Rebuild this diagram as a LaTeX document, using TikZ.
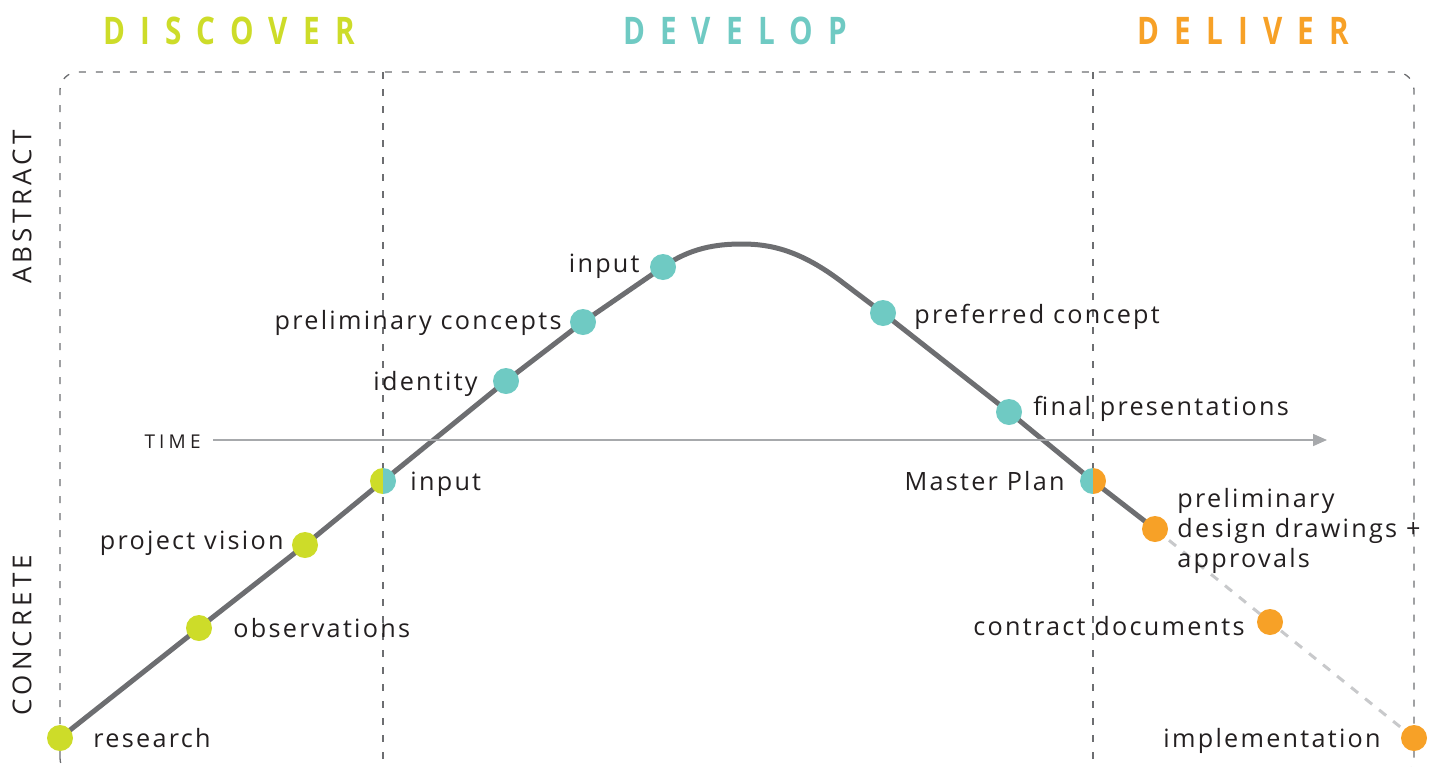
\documentclass[tikz,border=0pt]{standalone}
\usepackage{fontspec}
\setmainfont{Open Sans}
\newfontfamily\lblfont[LetterSpace=9]{Open Sans}
\newfontfamily\hdrfont[LetterSpace=40,FakeStretch=0.78]{Open Sans}
\newfontfamily\sidefont[LetterSpace=16]{Open Sans}
\newfontfamily\timefont[LetterSpace=22]{Open Sans}
\usetikzlibrary{arrows.meta,backgrounds}
\definecolor{cgreen}{HTML}{CDDC29}
\definecolor{cteal}{HTML}{6FCAC3}
\definecolor{corange}{HTML}{F7A127}
\definecolor{cline}{HTML}{6D6E71}
\definecolor{carrow}{HTML}{A7A9AC}
\definecolor{cdash}{HTML}{C8C9CB}
\definecolor{ctext}{HTML}{231F20}
\tikzset{
  dot/.style={circle,minimum size=13pt,inner sep=0pt,draw=none},
  gdot/.style={dot,fill=cgreen},
  tdot/.style={dot,fill=cteal},
  odot/.style={dot,fill=corange},
  halfdot/.style 2 args={dot,path picture={
      \fill[#1] (path picture bounding box.south west) rectangle (path picture bounding box.north);
      \fill[#2] (path picture bounding box.north) rectangle (path picture bounding box.south east);}},
  lbl/.style={font=\lblfont\fontsize{12.6pt}{15pt}\selectfont,text=ctext,inner sep=0pt},
  hdr/.style={font=\hdrfont\bfseries\fontsize{19pt}{22pt}\selectfont,inner sep=0pt,anchor=base},
  side/.style={font=\sidefont\fontsize{13pt}{15pt}\selectfont,text=ctext,inner sep=0pt,rotate=90},
  boxline/.style={draw=cline,line width=0.65pt,dash pattern=on 3.5pt off 5pt},
  curve/.style={draw=cline,line width=2.5pt},
  futureline/.style={draw=cdash,line width=1.5pt,dash pattern=on 4.5pt off 4.5pt},
  timeline/.style={draw=carrow,line width=0.8pt,-{Triangle[length=7pt,width=6pt]}}
}
\begin{document}
\begin{tikzpicture}[x=0.5pt,y=-0.5pt]
\useasboundingbox (0,0) rectangle (1440,766);
\clip (0,0) rectangle (1440,766);

% headers
\node[hdr,text=cgreen] (hdisc) at (229,44) {DISCOVER};
\node[hdr,text=cteal] (hdev) at (735,44) {DEVELOP};
\node[hdr,text=corange] (hdel) at (1243,44) {DELIVER};

% side labels
\node[side] (abs) at (22,207) {ABSTRACT};
\node[side] (con) at (22,635) {CONCRETE};

% dashed frame and dividers
\draw[boxline,rounded corners=9pt] (60,776) rectangle (1414,72);
\coordinate (d1t) at (383,72);
\coordinate (d1b) at (383,776);
\coordinate (d2t) at (1093,72);
\coordinate (d2b) at (1093,776);
\draw[boxline] (d1t) -- (d1b);
\draw[boxline] (d2t) -- (d2b);

% time axis
\node[font=\timefont\fontsize{9.5pt}{11pt}\selectfont,text=ctext,inner sep=0pt,anchor=east] (time) at (201,442) {TIME};
\coordinate (tend) at (1327,440);
\draw[timeline] (213,440) -- (tend);

% dots
\node[gdot] (r) at (60,738) {};
\node[gdot] (obs) at (199,628) {};
\node[gdot] (pv) at (305,545) {};
\node[halfdot={cgreen}{cteal}] (in1) at (383,481) {};
\node[tdot] (id) at (506,381) {};
\node[tdot] (pc) at (583,322) {};
\node[tdot] (in2) at (663,267) {};
\coordinate (peak) at (742,244);
\coordinate (bend) at (842,282);
\node[tdot] (pref) at (883,313) {};
\node[tdot] (fin) at (1009,412) {};
\node[halfdot={cteal}{corange}] (mp) at (1093,481) {};
\node[odot] (pdd) at (1155,529) {};
\node[odot] (cd) at (1270,622) {};
\node[odot] (imp) at (1414,738) {};

\begin{pgfonlayer}{background}
\draw[curve] (r.center) -- (obs.center) -- (pv.center) -- (in1.center) -- (id.center) -- (pc.center) -- (in2.center)
  .. controls (690,248) and (716,244) .. (peak)
  .. controls (770,244) and (800,250) .. (bend)
  -- (pref.center) -- (fin.center) -- (mp.center) -- (pdd.center);
\draw[futureline] (pdd.center) -- (cd.center) -- (imp.center);
\end{pgfonlayer}

% labels
\node[lbl,anchor=mid west] (lr) at (93,742) {research};
\node[lbl,anchor=mid west] (lobs) at (233,632) {observations};
\node[lbl,anchor=mid east] (lpv) at (284,544) {project vision};
\node[lbl,anchor=mid west] (lin1) at (410,485) {input};
\node[lbl,anchor=mid east] (lid) at (478,385) {identity};
\node[lbl,anchor=mid east] (lpc) at (562,324) {preliminary concepts};
\node[lbl,anchor=mid east] (lin2) at (640,267) {input};
\node[lbl,anchor=mid west] (lpref) at (914,318) {preferred concept};
\node[lbl,anchor=mid west] (lfin) at (1033,410) {final presentations};
\node[lbl,anchor=mid east] (lmp) at (1065,485) {Master Plan};
\node[lbl,anchor=mid west] (lpdd1) at (1177,502) {preliminary};
\node[lbl,anchor=mid west] (lpdd2) at (1177,532) {design drawings +};
\node[lbl,anchor=mid west] (lpdd3) at (1177,562) {approvals};
\node[lbl,anchor=mid east] (lcd) at (1245,630) {contract documents};
\node[lbl,anchor=mid east] (limp) at (1381,742) {implementation};
\end{tikzpicture}
\end{document}
